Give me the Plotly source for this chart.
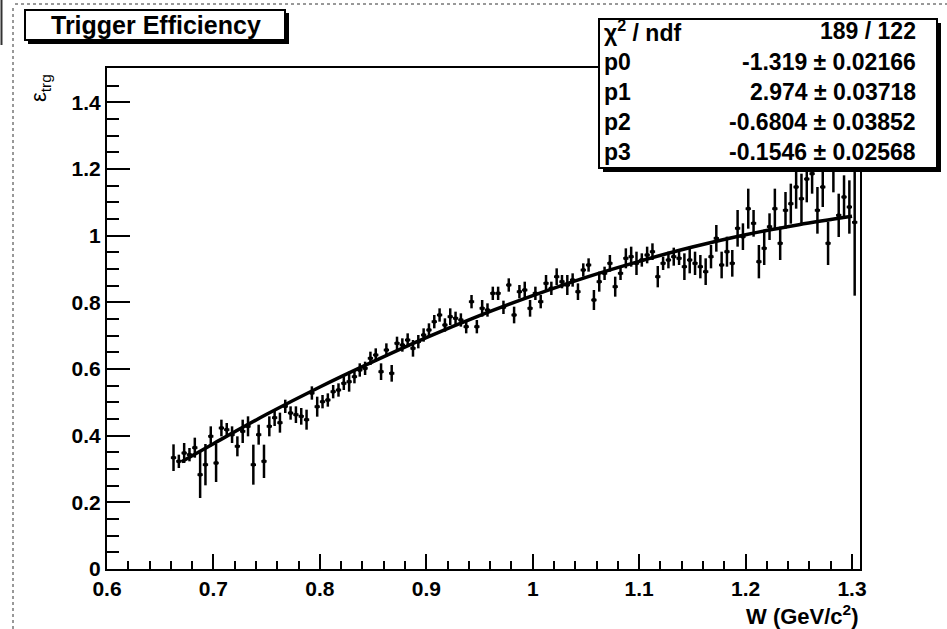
import plotly.graph_objects as go

# ---------------- data ----------------
w_bins = [0.6625, 0.6675, 0.6725, 0.6775, 0.6825, 0.6875, 0.6925, 0.6975,
          0.7025, 0.7075, 0.7125, 0.7175, 0.7225, 0.7275, 0.7325, 0.7375, 0.7425, 0.7475,
          0.7525, 0.7575, 0.7625, 0.7675, 0.7725, 0.7775, 0.7825, 0.7875, 0.7925, 0.7975,
          0.8025, 0.8075, 0.8125, 0.8175, 0.8225, 0.8275, 0.8325, 0.8375, 0.8425, 0.8475,
          0.8525, 0.8575, 0.8625, 0.8675, 0.8725, 0.8775, 0.8825, 0.8875, 0.8925, 0.8975,
          0.9025, 0.9075, 0.9125, 0.9175, 0.9225, 0.9275, 0.9325, 0.9375, 0.9425, 0.9475,
          0.9525, 0.9575, 0.9625, 0.9675, 0.9725, 0.9775, 0.9825, 0.9875, 0.9925, 0.9975,
          1.0025, 1.0075, 1.0125, 1.0175, 1.0225, 1.0275, 1.0325, 1.0375, 1.0425, 1.0475,
          1.0525, 1.0575, 1.0625, 1.0675, 1.0725, 1.0775, 1.0825, 1.0875, 1.0925, 1.0975,
          1.1025, 1.1075, 1.1125, 1.1175, 1.1225, 1.1275, 1.1325, 1.1375, 1.1425, 1.1475,
          1.1525, 1.1575, 1.1625, 1.1675, 1.1725, 1.1775, 1.1825, 1.1875, 1.1925, 1.1975,
          1.2025, 1.2075, 1.2125, 1.2175, 1.2225, 1.2275, 1.2325, 1.2375, 1.2425, 1.2475,
          1.2525, 1.2575, 1.2625, 1.2675, 1.2725, 1.2775, 1.2825, 1.2875, 1.2925, 1.2975,
          1.3025]

eff = [0.334, 0.323, 0.348, 0.343, 0.364, 0.283, 0.313, 0.398,
       0.318, 0.423, 0.418, 0.403, 0.368, 0.413, 0.428, 0.313, 0.403, 0.323,
       0.428, 0.454, 0.439, 0.488, 0.468, 0.463, 0.458, 0.448, 0.528, 0.487,
       0.502, 0.507, 0.532, 0.537, 0.557, 0.562, 0.577, 0.597, 0.602, 0.632,
       0.642, 0.592, 0.657, 0.587, 0.677, 0.672, 0.687, 0.662, 0.682, 0.702,
       0.717, 0.742, 0.762, 0.732, 0.757, 0.752, 0.747, 0.727, 0.802, 0.727,
       0.782, 0.777, 0.827, 0.827, 0.785, 0.852, 0.762, 0.832, 0.837, 0.782,
       0.827, 0.802, 0.857, 0.842, 0.877, 0.862, 0.852, 0.867, 0.832, 0.897,
       0.912, 0.807, 0.862, 0.887, 0.917, 0.847, 0.887, 0.932, 0.937, 0.917,
       0.927, 0.942, 0.952, 0.877, 0.917, 0.927, 0.937, 0.932, 0.907, 0.927,
       0.917, 0.907, 0.892, 0.937, 0.992, 0.912, 0.952, 0.917, 1.022, 0.997,
       1.081, 1.037, 0.922, 0.962, 1.027, 1.081, 0.977, 1.076, 1.096, 1.146,
       1.111, 1.170, 1.186, 1.076, 1.146, 0.977, 1.200, 1.061, 1.116, 1.086,
       1.040]

eff_err = [0.040, 0.020, 0.030, 0.020, 0.030, 0.070, 0.062, 0.030,
           0.057, 0.025, 0.020, 0.025, 0.030, 0.035, 0.030, 0.060, 0.030, 0.050,
           0.030, 0.025, 0.030, 0.020, 0.020, 0.025, 0.025, 0.030, 0.020, 0.030,
           0.020, 0.020, 0.020, 0.020, 0.020, 0.030, 0.020, 0.020, 0.020, 0.020,
           0.020, 0.025, 0.020, 0.025, 0.020, 0.020, 0.020, 0.025, 0.020, 0.020,
           0.020, 0.020, 0.020, 0.020, 0.025, 0.020, 0.020, 0.020, 0.020, 0.020,
           0.025, 0.020, 0.020, 0.020, 0.020, 0.020, 0.025, 0.020, 0.025, 0.025,
           0.020, 0.020, 0.025, 0.020, 0.025, 0.020, 0.030, 0.020, 0.025, 0.020,
           0.020, 0.030, 0.030, 0.020, 0.025, 0.030, 0.020, 0.030, 0.030, 0.035,
           0.020, 0.025, 0.025, 0.032, 0.020, 0.025, 0.027, 0.020, 0.040, 0.040,
           0.035, 0.035, 0.040, 0.035, 0.040, 0.040, 0.045, 0.040, 0.055, 0.040,
           0.060, 0.040, 0.050, 0.050, 0.040, 0.060, 0.050, 0.055, 0.060, 0.065,
           0.075, 0.070, 0.060, 0.070, 0.060, 0.065, 0.070, 0.065, 0.065, 0.080,
           0.220]

# fit curve
fit_w = [0.67, 0.70, 0.75, 0.80, 0.85, 0.90, 0.95, 1.00, 1.05, 1.10, 1.15, 1.20, 1.25, 1.30]
fit_eff = [0.322, 0.376, 0.464, 0.546, 0.622, 0.694, 0.760, 0.820, 0.875, 0.923, 0.966, 1.003, 1.033, 1.058]

stat_names = ["χ<sup>2</sup> / ndf", "p0", "p1", "p2", "p3"]
stat_values = ["189 / 122", "-1.319 ± 0.02166", "2.974 ± 0.03718",
               "-0.6804 ± 0.03852", "-0.1546 ± 0.02568"]

title_text = "Trigger Efficiency"
x_title = "W (GeV/c<sup>2</sup>)"
y_title = "ε<sub>trg</sub>"

# ---------------- layout geometry (pixels) ----------------
W, H = 947, 629
L, R, T, B = 107, 860, 68, 569


def px(x):
    return (x - L) / (R - L)


def py(y):
    return (B - y) / (B - T)


FONT = "Liberation Sans, Arial, Helvetica, sans-serif"

fig = go.Figure()

fig.add_trace(go.Scatter(
    x=w_bins, y=eff, mode="markers",
    marker=dict(symbol="square", size=3.5, color="black"),
    error_y=dict(type="data", array=eff_err, color="black", thickness=2.5, width=0),
    error_x=dict(type="constant", value=0.0025, color="black", thickness=2.5, width=0),
    showlegend=False, hoverinfo="skip"))

fig.add_trace(go.Scatter(
    x=fit_w, y=fit_eff, mode="lines",
    line=dict(color="black", width=3.5, shape="spline", smoothing=1.0),
    showlegend=False, hoverinfo="skip"))

shapes = []
# title box with shadow
shapes.append(dict(type="rect", xref="paper", yref="paper", layer="above",
                   x0=px(28), x1=px(289), y0=py(44), y1=py(13),
                   fillcolor="black", line=dict(width=0)))
shapes.append(dict(type="rect", xref="paper", yref="paper", layer="above",
                   x0=px(25), x1=px(285), y0=py(40), y1=py(10),
                   fillcolor="white", line=dict(color="black", width=2)))
# stats box with shadow
shapes.append(dict(type="rect", xref="paper", yref="paper", layer="above",
                   x0=px(603), x1=px(941), y0=py(172), y1=py(23),
                   fillcolor="black", line=dict(width=0)))
shapes.append(dict(type="rect", xref="paper", yref="paper", layer="above",
                   x0=px(599), x1=px(937), y0=py(168), y1=py(19),
                   fillcolor="white", line=dict(color="black", width=2)))
# scan border artefacts
shapes.append(dict(type="line", xref="paper", yref="paper", layer="above",
                   x0=px(13), x1=px(13), y0=py(629), y1=py(8),
                   line=dict(color="#333", width=1, dash="dot")))
shapes.append(dict(type="line", xref="paper", yref="paper", layer="above",
                   x0=px(15), x1=px(947), y0=py(4), y1=py(4),
                   line=dict(color="#333", width=1, dash="dot")))
shapes.append(dict(type="line", xref="paper", yref="paper", layer="above",
                   x0=px(1.5), x1=px(1.5), y0=py(45), y1=py(0),
                   line=dict(color="#333", width=2)))

annotations = []
annotations.append(dict(xref="paper", yref="paper", x=px(156), y=py(25),
                        text=title_text, showarrow=False, xanchor="center", yanchor="middle",
                        font=dict(family=FONT, size=25, color="black", weight="bold")))
rows_y = [31, 62, 92, 122, 152]
for name, val, ry in zip(stat_names, stat_values, rows_y):
    annotations.append(dict(xref="paper", yref="paper", x=px(602), y=py(ry),
                            text=name, showarrow=False, xanchor="left", yanchor="middle",
                            font=dict(family=FONT, size=23, color="black", weight="bold")))
    annotations.append(dict(xref="paper", yref="paper", x=px(918), y=py(ry),
                            text=val, showarrow=False, xanchor="right", yanchor="middle",
                            font=dict(family=FONT, size=23, color="black", weight="bold")))
annotations.append(dict(xref="paper", yref="paper", x=px(860), y=py(615),
                        text=x_title, showarrow=False, xanchor="right", yanchor="middle",
                        font=dict(family=FONT, size=22, color="black", weight="bold")))
annotations.append(dict(xref="paper", yref="paper", x=px(40), y=py(88),
                        text=y_title, showarrow=False, textangle=-90,
                        xanchor="center", yanchor="middle",
                        font=dict(family=FONT, size=22, color="black")))

fig.update_layout(
    width=W, height=H,
    margin=dict(l=L, r=W - R, t=T, b=H - B, pad=0),
    paper_bgcolor="white", plot_bgcolor="white",
    shapes=shapes, annotations=annotations,
    xaxis=dict(range=[0.6, 1.3075], dtick=0.1, tick0=0.6,
               showgrid=False, zeroline=False,
               showline=True, linecolor="black", linewidth=2, mirror=True,
               ticks="inside", ticklen=15, tickwidth=2, tickcolor="black",
               minor=dict(dtick=0.02, ticks="inside", ticklen=8, tickwidth=2, tickcolor="black"),
               tickfont=dict(family=FONT, size=21, color="black", weight="bold")),
    yaxis=dict(range=[0, 1.503], dtick=0.2, tick0=0,
               showgrid=False, zeroline=False,
               showline=True, linecolor="black", linewidth=2, mirror=True,
               ticks="inside", ticklen=23, tickwidth=2, tickcolor="black",
               minor=dict(dtick=0.05, ticks="inside", ticklen=12, tickwidth=2, tickcolor="black"),
               tickfont=dict(family=FONT, size=21, color="black", weight="bold")),
)

fig.write_html("out.html")
